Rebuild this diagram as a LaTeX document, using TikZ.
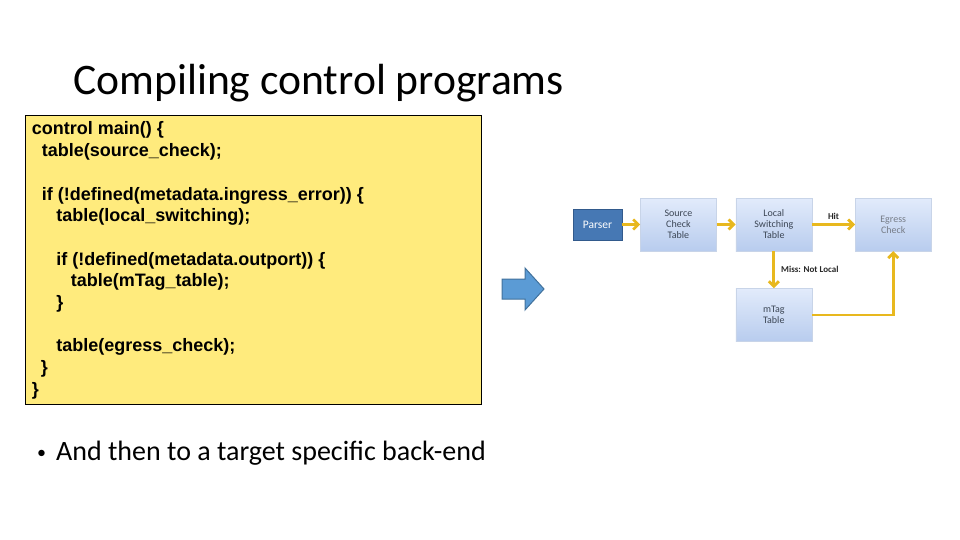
\documentclass[tikz,border=0pt]{standalone}
\usepackage{fontspec}
\setmainfont{Carlito}
\newfontfamily\codefont{Liberation Sans}
\usetikzlibrary{positioning,arrows.meta,shadows}

\definecolor{codeyellow}{RGB}{255,235,125}
\definecolor{flowgold}{RGB}{232,184,30}
\definecolor{parserblue}{RGB}{70,120,180}
\definecolor{parserline}{RGB}{50,90,140}
\definecolor{boxtop}{RGB}{226,235,251}
\definecolor{boxbottom}{RGB}{184,204,238}
\definecolor{boxline}{RGB}{200,212,232}
\definecolor{boxtext}{RGB}{60,70,85}
\definecolor{arrowblue}{RGB}{91,155,213}
\definecolor{arrowline}{RGB}{65,113,156}

\tikzset{
  codeline/.style={anchor=base west, inner sep=0pt, font=\codefont\bfseries\fontsize{18}{21}\selectfont},
  stage/.style={rectangle, draw=boxline, top color=boxtop, bottom color=boxbottom,
    minimum width=76pt, minimum height=53pt, inner sep=1pt, align=center, text=boxtext,
    font=\fontsize{10}{11}\selectfont, drop shadow={opacity=0.2, shadow xshift=1pt, shadow yshift=-1pt}},
  flow/.style={draw=flowgold, line width=2.8pt, -{Straight Barb[length=5pt,width=10pt]}},
  flowlabel/.style={font=\bfseries\fontsize{9}{10}\selectfont, text=black!85, inner sep=1pt},
}

\begin{document}
\begin{tikzpicture}[x=1pt,y=-1pt]
  \useasboundingbox (0,0) rectangle (960,540);

  % title
  \node[anchor=base west, inner sep=0pt, font=\fontsize{43.6}{50}\selectfont] (title) at (73,95) {Compiling control programs};

  % code block
  \draw[fill=codeyellow, draw=black, line width=0.6pt] (25,115) rectangle (481,404);
  \foreach \ln/\ind/\txt in {0/0/{control main() \{},
                             1/10/{table(source\_check);},
                             3/10/{if (!defined(metadata.ingress\_error)) \{},
                             4/24.5/{table(local\_switching);},
                             6/24.5/{if (!defined(metadata.outport)) \{},
                             7/39/{table(mTag\_table);},
                             8/24.5/{\}},
                             10/24.5/{table(egress\_check);},
                             11/9/{\}},
                             12/0/{\}}}
    \node[codeline] (code\ln) at (31.7+\ind, 135+21.67*\ln) {\txt};

  % bullet
  \node[anchor=base west, inner sep=0pt, font=\fontsize{28}{32}\selectfont] (bullet) at (37,460)
    {{\fontsize{18}{18}\selectfont\raisebox{2pt}{\textbullet}}\hspace{10pt}And then to a target specific back-end};

  % big arrow
  \draw[fill=arrowblue, draw=arrowline, line width=1pt] (502,279) -- (525,279) -- (525,268) -- (544,289)
    -- (525,310) -- (525,299) -- (502,299) -- cycle;

  % pipeline
  \node[rectangle, fill=parserblue, draw=parserline, text=white, minimum width=49pt, minimum height=31pt,
        font=\fontsize{11.5}{12}\selectfont, inner sep=0pt] (parser) at (597.5,224.5) {Parser};
  \node[stage] (src) [right=18pt of parser] {Source\\Check\\Table};
  \node[stage] (local) [right=19pt of src] {Local\\Switching\\Table};
  \node[stage, text=boxtext!70] (egress) [right=43pt of local] {Egress\\Check};
  \node[stage] (mtag) [below=37pt of local] {mTag\\Table};

  \draw[flow] (parser) -- (src);
  \draw[flow] (src) -- (local);
  \draw[flow] (local) -- node[flowlabel, above=3pt] (hit) {Hit} (egress);
  \draw[flow] (local) -- node[flowlabel, right=5pt] (miss) {Miss: Not Local} (mtag);
  \draw[flow] (mtag.east) -| (egress.south);
\end{tikzpicture}
\end{document}
